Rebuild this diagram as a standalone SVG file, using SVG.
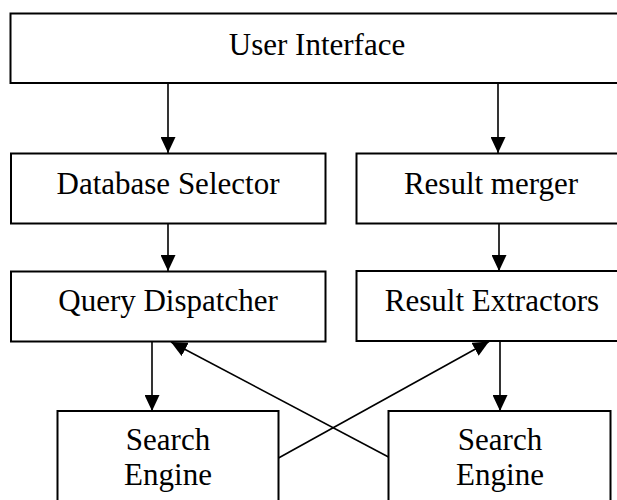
<svg xmlns="http://www.w3.org/2000/svg" width="617" height="500" viewBox="0 0 617 500">
  <style>
    .box { fill: #ffffff; stroke: #000000; stroke-width: 2; }
    .lbl { font-family: "Liberation Serif", "Times New Roman", serif; font-size: 31px; fill: #000000; text-anchor: middle; }
    .conn { stroke: #000000; stroke-width: 1.6; fill: none; marker-end: url(#arrow); }
  </style>
  <defs>
    <marker id="arrow" markerUnits="userSpaceOnUse" markerWidth="17" markerHeight="15" viewBox="0 0 17 15" refX="16" refY="7.5" orient="auto">
      <path d="M0,0 L16,7.5 L0,15 z" fill="#000000"/>
    </marker>
  </defs>
  <rect width="617" height="500" fill="#ffffff"/>

  <g id="user-interface">
    <rect class="box" x="10.5" y="13.5" width="616" height="69.5"/>
    <text class="lbl" x="317" y="55">User Interface</text>
  </g>
  <g id="database-selector">
    <rect class="box" x="11" y="153.5" width="314.5" height="70"/>
    <text class="lbl" x="168" y="194">Database Selector</text>
  </g>
  <g id="result-merger">
    <rect class="box" x="356.5" y="153.5" width="270" height="70"/>
    <text class="lbl" x="491" y="194">Result merger</text>
  </g>
  <g id="query-dispatcher">
    <rect class="box" x="11" y="271.5" width="314.5" height="70"/>
    <text class="lbl" x="168" y="311">Query Dispatcher</text>
  </g>
  <g id="result-extractors">
    <rect class="box" x="356.5" y="271" width="270" height="70"/>
    <text class="lbl" x="492" y="311">Result Extractors</text>
  </g>
  <g id="search-engine-1">
    <rect class="box" x="57.5" y="411" width="221" height="100"/>
    <text class="lbl" x="168" y="450">Search</text>
    <text class="lbl" x="168" y="485">Engine</text>
  </g>
  <g id="search-engine-2">
    <rect class="box" x="388.5" y="411" width="222" height="100"/>
    <text class="lbl" x="500" y="450">Search</text>
    <text class="lbl" x="500" y="485">Engine</text>
  </g>

  <g id="connectors">
    <line class="conn" x1="168" y1="83" x2="168" y2="153"/>
    <line class="conn" x1="498" y1="83" x2="498" y2="153"/>
    <line class="conn" x1="168" y1="224" x2="168" y2="271"/>
    <line class="conn" x1="499" y1="224" x2="499" y2="271"/>
    <line class="conn" x1="152" y1="342" x2="152" y2="411"/>
    <line class="conn" x1="500" y1="341" x2="500" y2="411"/>
    <line class="conn" x1="278.5" y1="458" x2="489" y2="341.5"/>
    <line class="conn" x1="388.5" y1="457" x2="171" y2="342"/>
  </g>
</svg>
